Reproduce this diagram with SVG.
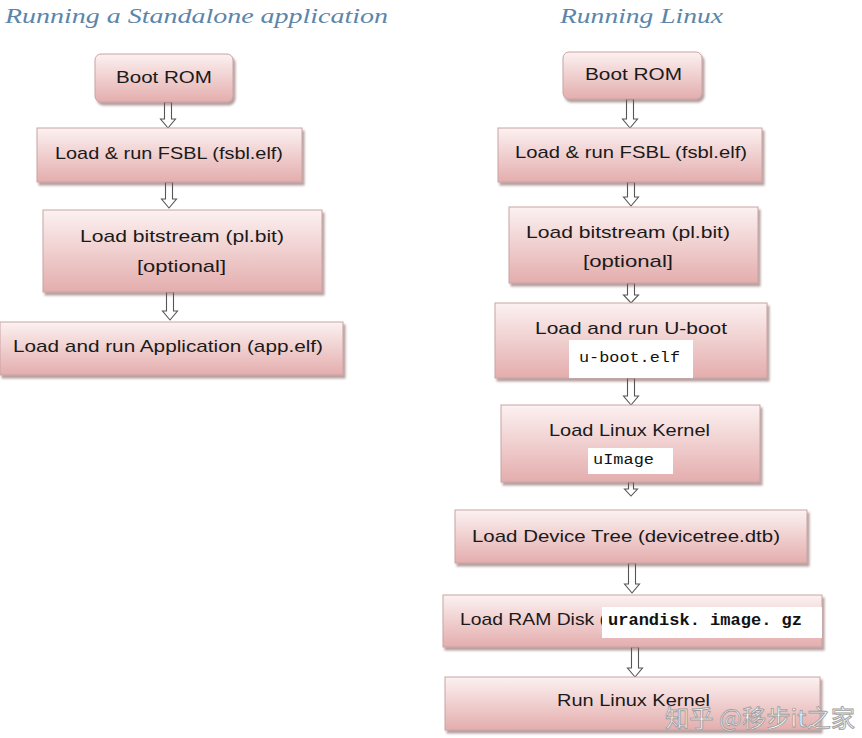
<svg xmlns="http://www.w3.org/2000/svg" width="862" height="738" viewBox="0 0 862 738">
<defs>
  <linearGradient id="pink" x1="0" y1="0" x2="0" y2="1">
    <stop offset="0" stop-color="#fcf1f1"/>
    <stop offset="1" stop-color="#e4adad"/>
  </linearGradient>
  <filter id="sh" x="-5%" y="-10%" width="115%" height="130%">
    <feDropShadow dx="2" dy="3" stdDeviation="1.2" flood-color="#7a5050" flood-opacity="0.55"/>
  </filter>
  <style>
    .box{fill:url(#pink);stroke:#c9a3a3;stroke-width:1;filter:url(#sh)}
    .t{font-family:"Liberation Sans","Open Sans",sans-serif;font-size:17px;fill:#1a1a1a;text-anchor:start}
    .title{font-family:"Liberation Serif","DejaVu Serif",serif;font-style:italic;font-size:22px;fill:#5b86aa}
    .mono{font-family:"Liberation Mono","DejaVu Sans Mono",monospace;font-size:14px;fill:#111}
    .monob{font-family:"Liberation Mono","DejaVu Sans Mono",monospace;font-size:16px;font-weight:bold;fill:#111}
    .wb{fill:#ffffff}
    .arr{fill:#ffffff;stroke:#555555;stroke-width:1.1}
    .wm{font-family:"Noto Sans CJK SC","Noto Sans",sans-serif;font-size:24px;fill:#ffffff;stroke:#a0a0a0;stroke-width:0.9}
  </style>
</defs>
<rect width="862" height="738" fill="#ffffff"/>

<text class="title" x="5" y="23" textLength="383" lengthAdjust="spacingAndGlyphs">Running a Standalone application</text>
<text class="title" x="560" y="23" textLength="163" lengthAdjust="spacingAndGlyphs">Running Linux</text>

<g id="connectors">
  <path class="arr" d="M164.5,102 h7 v17 h4 l-7.5,9 l-7.5,-9 h4 z"/>
  <path class="arr" d="M165.5,182 h7 v17 h4 l-7.5,9 l-7.5,-9 h4 z"/>
  <path class="arr" d="M166.5,292 h7 v19 h4 l-7.5,9 l-7.5,-9 h4 z"/>
  <path class="arr" d="M626.5,99 h7 v20 h4 l-7.5,9 l-7.5,-9 h4 z"/>
  <path class="arr" d="M627.5,182 h7 v15 h4 l-7.5,9 l-7.5,-9 h4 z"/>
  <path class="arr" d="M627.5,283 h7 v12 h4 l-7.5,8 l-7.5,-8 h4 z"/>
  <path class="arr" d="M627.5,378 h7 v18 h4 l-7.5,9 l-7.5,-9 h4 z"/>
  <path class="arr" d="M628.5,482 h5 v7 h4 l-6.5,7 l-6.5,-7 h4 z"/>
  <path class="arr" d="M628.5,563 h7 v21 h4 l-7.5,9 l-7.5,-9 h4 z"/>
  <path class="arr" d="M631.5,647 h7 v21 h4 l-7.5,9 l-7.5,-9 h4 z"/>
</g>

<g id="l-bootrom">
  <rect class="box" x="95" y="54" width="138" height="48" rx="6"/>
  <text class="t" x="116" y="83" textLength="96" lengthAdjust="spacingAndGlyphs">Boot ROM</text>
</g>
<g id="l-fsbl">
  <rect class="box" x="37" y="128" width="265" height="54"/>
  <text class="t" x="55" y="159" textLength="228" lengthAdjust="spacingAndGlyphs">Load &amp; run FSBL (fsbl.elf)</text>
</g>
<g id="l-bitstream">
  <rect class="box" x="43" y="210" width="279" height="82"/>
  <text class="t" x="80" y="242" textLength="204" lengthAdjust="spacingAndGlyphs">Load bitstream (pl.bit)</text>
  <text class="t" x="137" y="272" textLength="89" lengthAdjust="spacingAndGlyphs">[optional]</text>
</g>
<g id="l-app">
  <rect class="box" x="0" y="322" width="343" height="53"/>
  <text class="t" x="13" y="352" textLength="310" lengthAdjust="spacingAndGlyphs">Load and run Application (app.elf)</text>
</g>

<g id="r-bootrom">
  <rect class="box" x="563" y="52" width="139" height="47" rx="6"/>
  <text class="t" x="585" y="80" textLength="97" lengthAdjust="spacingAndGlyphs">Boot ROM</text>
</g>
<g id="r-fsbl">
  <rect class="box" x="498" y="128" width="264" height="54"/>
  <text class="t" x="515" y="158" textLength="232" lengthAdjust="spacingAndGlyphs">Load &amp; run FSBL (fsbl.elf)</text>
</g>
<g id="r-bitstream">
  <rect class="box" x="509" y="207" width="249" height="76"/>
  <text class="t" x="526" y="238" textLength="204" lengthAdjust="spacingAndGlyphs">Load bitstream (pl.bit)</text>
  <text class="t" x="583" y="267" textLength="90" lengthAdjust="spacingAndGlyphs">[optional]</text>
</g>
<g id="r-uboot">
  <rect class="box" x="495" y="303" width="272" height="75"/>
  <text class="t" x="535" y="334" textLength="192" lengthAdjust="spacingAndGlyphs">Load and run U-boot</text>
  <rect class="wb" x="569" y="340" width="124" height="38"/>
  <text class="mono" x="579" y="362" textLength="101" lengthAdjust="spacingAndGlyphs">u-boot.elf</text>
</g>
<g id="r-kernel">
  <rect class="box" x="501" y="405" width="259" height="77"/>
  <text class="t" x="549" y="436" textLength="161" lengthAdjust="spacingAndGlyphs">Load Linux Kernel</text>
  <rect class="wb" x="588" y="448" width="85" height="26"/>
  <text class="mono" x="593" y="464" textLength="61" lengthAdjust="spacingAndGlyphs">uImage</text>
</g>
<g id="r-devicetree">
  <rect class="box" x="455" y="510" width="352" height="53"/>
  <text class="t" x="472" y="542" textLength="308" lengthAdjust="spacingAndGlyphs">Load Device Tree (devicetree.dtb)</text>
</g>
<g id="r-ramdisk">
  <rect class="box" x="443" y="595" width="379" height="52"/>
  <text class="t" x="460" y="625" textLength="146" lengthAdjust="spacingAndGlyphs">Load RAM Disk (</text>
  <rect class="wb" x="602" y="607" width="220" height="31"/>
  <text class="monob" x="608" y="625" textLength="194" lengthAdjust="spacingAndGlyphs">urandisk. image. gz</text>
</g>
<g id="r-run">
  <rect class="box" x="445" y="677" width="375" height="53"/>
  <text class="t" x="557" y="706" textLength="153" lengthAdjust="spacingAndGlyphs">Run Linux Kernel</text>
</g>

<text class="wm" x="665" y="727" textLength="190" lengthAdjust="spacingAndGlyphs">知乎 @移步it之家</text>
</svg>
